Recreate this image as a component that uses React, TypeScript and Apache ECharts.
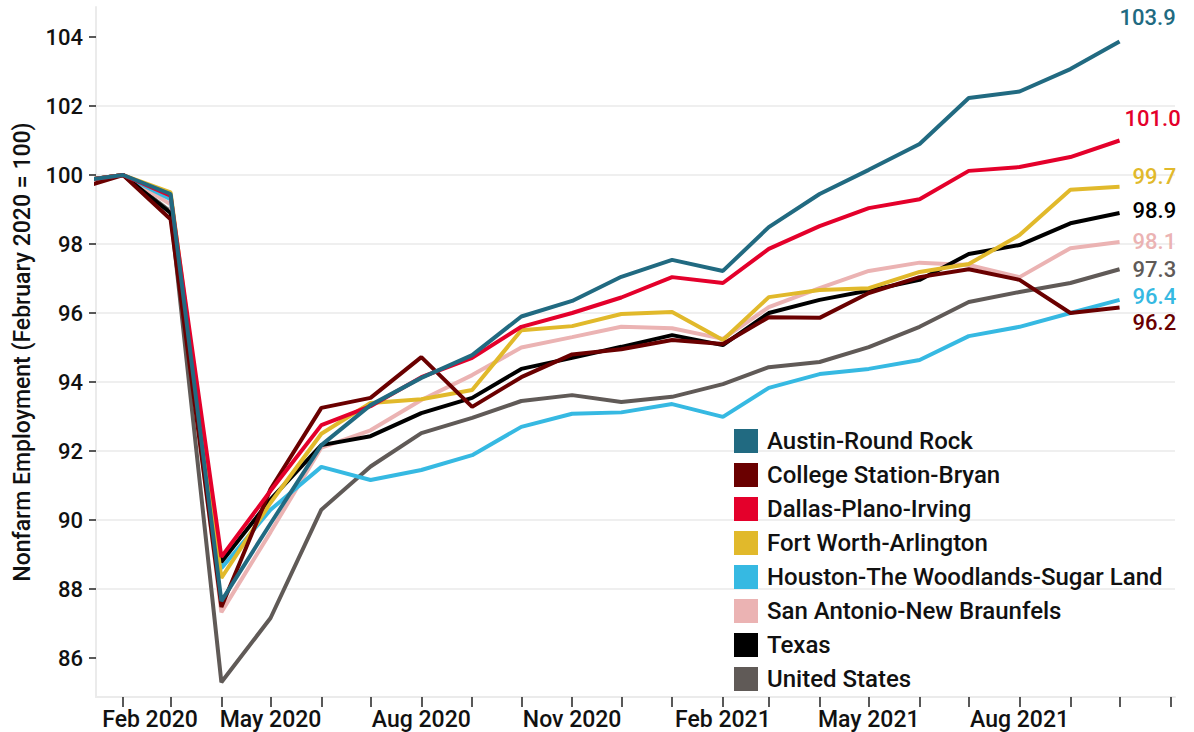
import React, { useEffect, useRef } from "react";
import * as echarts from "echarts";

// Months (first of month) from Jan 2020 to Oct 2021
const months = [
  "2020-01", "2020-02", "2020-03", "2020-04", "2020-05", "2020-06", "2020-07", "2020-08",
  "2020-09", "2020-10", "2020-11", "2020-12", "2021-01", "2021-02", "2021-03", "2021-04",
  "2021-05", "2021-06", "2021-07", "2021-08", "2021-09", "2021-10",
];
const tickMonths = [
  "2020-02", "2020-03", "2020-04", "2020-05", "2020-06", "2020-07", "2020-08", "2020-09",
  "2020-10", "2020-11", "2020-12", "2021-01", "2021-02", "2021-03", "2021-04", "2021-05",
  "2021-06", "2021-07", "2021-08", "2021-09", "2021-10", "2021-11",
];
const labelMonths = ["2020-02", "2020-05", "2020-08", "2020-11", "2021-02", "2021-05", "2021-08"];
const yTicks = [86, 88, 90, 92, 94, 96, 98, 100, 102, 104];
const monthNames = ["Jan", "Feb", "Mar", "Apr", "May", "Jun", "Jul", "Aug", "Sep", "Oct", "Nov", "Dec"];

const austin = [99.8, 100, 99.45, 87.65, 89.9, 92.17, 93.33, 94.12, 94.78, 95.9, 96.35, 97.05, 97.54, 97.22, 98.49, 99.45, 100.15, 100.9, 102.23, 102.42, 103.07, 103.87];
const collegeStation = [99.55, 100, 98.72, 87.48, 90.9, 93.25, 93.54, 94.72, 93.28, 94.14, 94.8, 94.95, 95.22, 95.1, 95.88, 95.86, 96.58, 97.04, 97.27, 96.96, 96.0, 96.16];
const dallas = [99.8, 100, 99.4, 88.93, 90.85, 92.75, 93.3, 94.14, 94.7, 95.6, 96.0, 96.45, 97.04, 96.87, 97.86, 98.52, 99.04, 99.3, 100.12, 100.23, 100.52, 101.0];
const fortWorth = [99.8, 100, 99.5, 88.32, 90.5, 92.5, 93.39, 93.5, 93.77, 95.5, 95.62, 95.97, 96.03, 95.22, 96.46, 96.67, 96.72, 97.19, 97.42, 98.26, 99.57, 99.66];
const houston = [99.8, 100, 99.3, 88.6, 90.3, 91.54, 91.16, 91.45, 91.88, 92.7, 93.08, 93.12, 93.36, 92.99, 93.83, 94.23, 94.38, 94.64, 95.33, 95.6, 96.0, 96.38];
const sanAntonio = [99.8, 100, 99.15, 87.33, 89.65, 92.1, 92.6, 93.48, 94.2, 95.0, 95.3, 95.6, 95.56, 95.25, 96.17, 96.72, 97.22, 97.46, 97.39, 97.04, 97.88, 98.06];
const texas = [99.8, 100, 98.9, 88.78, 90.6, 92.17, 92.43, 93.1, 93.54, 94.38, 94.7, 95.02, 95.36, 95.07, 96.0, 96.38, 96.65, 96.96, 97.71, 97.97, 98.6, 98.9];
const unitedStates = [99.8, 100, 98.94, 85.3, 87.16, 90.3, 91.55, 92.52, 92.96, 93.45, 93.62, 93.42, 93.57, 93.94, 94.43, 94.58, 95.01, 95.6, 96.32, 96.61, 96.87, 97.27];

const legendOrder = [
  "Austin-Round Rock", "College Station-Bryan", "Dallas-Plano-Irving", "Fort Worth-Arlington",
  "Houston-The Woodlands-Sugar Land", "San Antonio-New Braunfels", "Texas", "United States",
];

// drawing order (bottom to top)
const seriesDefs = [
  { name: "United States", values: unitedStates, color: "#605a57", offset: [5, 0] },
  { name: "San Antonio-New Braunfels", values: sanAntonio, color: "#ebb3b3", offset: [5, 0] },
  { name: "Houston-The Woodlands-Sugar Land", values: houston, color: "#36b9e2", offset: [5, -3] },
  { name: "Texas", values: texas, color: "#000000", offset: [5, -2] },
  { name: "Fort Worth-Arlington", values: fortWorth, color: "#e1b92b", offset: [5, -10] },
  { name: "College Station-Bryan", values: collegeStation, color: "#6a0000", offset: [5, 15] },
  { name: "Dallas-Plano-Irving", values: dallas, color: "#e4002b", offset: [-3, -22] },
  { name: "Austin-Round Rock", values: austin, color: "#216a81", offset: [-8, -24] },
];

const toTs = (s: string) => {
  const [y, m] = s.split("-").map(Number);
  return new Date(y, m - 1, 1).getTime();
};

const FONT = "Roboto";
const W = 500;

export default function App() {
  const ref = useRef<HTMLDivElement>(null);
  useEffect(() => {
    if (!ref.current) return;
    const chart = echarts.init(ref.current, null, { renderer: "svg" });
    const monthTs = months.map(toTs);
    const option: any = {
      animation: false,
      textStyle: { fontFamily: FONT, fontWeight: W },
      grid: { left: 96, right: 19, top: 7, bottom: 35, containLabel: false },
      legend: {
        orient: "vertical",
        left: 734,
        top: 429,
        padding: 0,
        icon: "rect",
        itemWidth: 24,
        itemHeight: 24,
        itemGap: 10,
        data: legendOrder,
        textStyle: { fontSize: 24, color: "#111", fontFamily: FONT, fontWeight: W, lineHeight: 24, padding: [0, 0, 0, 4] },
      },
      xAxis: {
        type: "value",
        min: new Date(2020, 0, 15, 12).getTime(),
        max: new Date(2021, 10, 3, 20).getTime(),
        axisLine: { show: true, lineStyle: { color: "#ebebeb", width: 2 } },
        axisTick: { show: true, customValues: tickMonths.map(toTs), length: 10, lineStyle: { color: "#222", width: 1.5 } },
        splitLine: { show: false },
        axisLabel: {
          customValues: labelMonths.map(toTs),
          fontSize: 23,
          color: "#111",
          fontFamily: FONT,
          fontWeight: W,
          margin: 11,
          formatter: (v: number) => {
            const d = new Date(v);
            const txt = monthNames[d.getMonth()] + " " + d.getFullYear();
            return d.getFullYear() === 2020 && d.getMonth() === 1 ? "{p|" + txt + "}" : txt;
          },
          rich: { p: { padding: [0, 0, 0, 54], fontSize: 23, color: "#111", fontFamily: FONT, fontWeight: W } },
        },
      },
      yAxis: {
        type: "value",
        min: 84.87,
        max: 104.87,
        splitNumber: 10,
        name: "Nonfarm Employment (February 2020 = 100)",
        nameLocation: "middle",
        nameGap: 62,
        nameTextStyle: { fontSize: 23, color: "#111", fontFamily: FONT, fontWeight: W },
        axisLine: { show: true, lineStyle: { color: "#ebebeb", width: 2 } },
        axisTick: { show: true, customValues: yTicks, length: 7, lineStyle: { color: "#222", width: 1.5 } },
        axisLabel: { customValues: yTicks, fontSize: 22, color: "#111", fontFamily: FONT, fontWeight: W, margin: 13 },
        splitLine: { show: true, showMinLine: false, showMaxLine: false, lineStyle: { color: "#efefef", width: 2 } },
      },
      series: seriesDefs.map((s) => ({
        name: s.name,
        type: "line",
        symbol: "none",
        clip: true,
        color: s.color,
        itemStyle: { color: s.color },
        lineStyle: { color: s.color, width: 4 },
        emphasis: { disabled: true },
        data: s.values.map((v, i) => [monthTs[i], v]),
        endLabel: {
          show: true,
          formatter: (p: any) => p.value[1].toFixed(1),
          color: s.color,
          fontSize: 22,
          fontFamily: FONT,
          fontWeight: W,
          offset: s.offset,
        },
      })),
    };
    chart.setOption(option);
    return () => chart.dispose();
  }, []);
  return <div ref={ref} style={{ position: "absolute", left: 0, top: 0, width: 1194, height: 732 }} />;
}
